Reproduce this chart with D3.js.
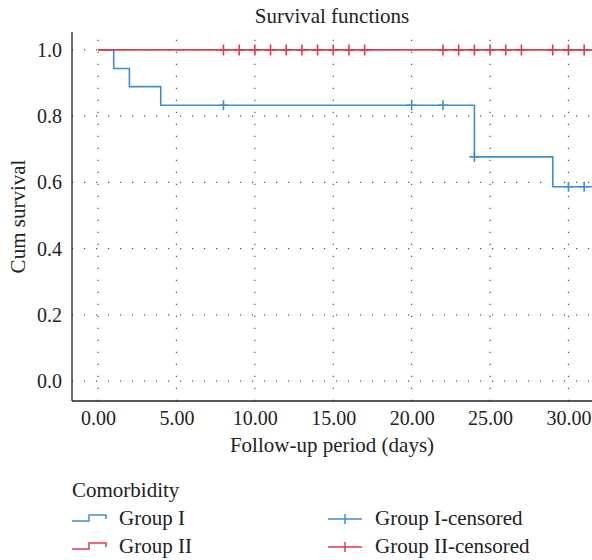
<!DOCTYPE html>
<html>
<head>
<meta charset="utf-8">
<script src="https://cdn.jsdelivr.net/npm/d3@7"></script>
<style>
  body { margin: 0; background: #fff; }
  text { font-family: "Liberation Serif", "DejaVu Serif", serif; fill: #222; }
</style>
</head>
<body>
<div id="chart"></div>
<script>
// survival steps: [time, cum survival]
const groupI = [[0, 1], [1, 0.944], [2, 0.889], [4, 0.833], [24, 0.677], [29, 0.587], [31.5, 0.587]];
const groupII = [[0, 1], [31.5, 1]];
const groupICensored = [[8, 0.833], [20, 0.833], [22, 0.833], [24, 0.677], [30, 0.587], [31, 0.587]];
const groupIICensored = [8, 9, 10, 11, 12, 13, 14, 15, 16, 17, 22, 23, 24, 25, 26, 27, 29, 30, 31].map(t => [t, 1]);
const xTicks = [0, 5, 10, 15, 20, 25, 30];
const yTicks = [0, 0.2, 0.4, 0.6, 0.8, 1.0];
const legendItems = [
  { label: "Group I", color: "#3f8fce", kind: "step" },
  { label: "Group II", color: "#e5384f", kind: "step" },
  { label: "Group I-censored", color: "#3f8fce", kind: "cross" },
  { label: "Group II-censored", color: "#e5384f", kind: "cross" }
];

const width = 592, height = 560;
const mLeft = 72, mRight = 592, mTop = 32, mBottom = 401;

const svg = d3.select("#chart").append("svg")
  .attr("width", width)
  .attr("height", height);

const x = d3.scaleLinear().domain([-1.66, 31.5]).range([mLeft, mRight]);
const y = d3.scaleLinear().domain([-0.06, 1.054]).range([mBottom, mTop]);

// dotted grid
const grid = svg.append("g").attr("stroke", "#555").attr("stroke-width", 1.2).attr("stroke-dasharray", "1.2,10.8");
grid.selectAll("line.v").data(xTicks).enter().append("line")
  .attr("x1", d => x(d)).attr("x2", d => x(d))
  .attr("y1", mBottom).attr("y2", mTop);
grid.selectAll("line.h").data(yTicks).enter().append("line")
  .attr("x1", mLeft).attr("x2", mRight)
  .attr("y1", d => y(d)).attr("y2", d => y(d));

// axes (no tick marks)
const xAxis = svg.append("g").attr("transform", "translate(0," + mBottom + ")")
  .call(d3.axisBottom(x).tickValues(xTicks).tickFormat(d3.format(".2f")).tickSize(0).tickPadding(10));
const yAxis = svg.append("g").attr("transform", "translate(" + mLeft + ",0)")
  .call(d3.axisLeft(y).tickValues(yTicks).tickFormat(d3.format(".1f")).tickSize(0).tickPadding(10));
[xAxis, yAxis].forEach(a => {
  a.attr("font-size", 20).attr("font-family", "Liberation Serif");
  a.select(".domain").attr("stroke", "#222").attr("stroke-width", 1.3);
  a.selectAll(".tick text").attr("fill", "#222").attr("font-size", 20);
});
xAxis.select(".domain").attr("d", "M" + mLeft + ",0H" + mRight);
yAxis.select(".domain").attr("d", "M0," + mTop + "V" + mBottom);

const line = d3.line().x(d => x(d[0])).y(d => y(d[1])).curve(d3.curveStepAfter);

svg.append("path").datum(groupI)
  .attr("fill", "none").attr("stroke", "#3f8fce").attr("stroke-width", 1.6).attr("d", line);
svg.append("path").datum(groupII)
  .attr("fill", "none").attr("stroke", "#e5384f").attr("stroke-width", 1.9).attr("d", line);

function crosses(data, color, size) {
  svg.append("g").selectAll("path").data(data).enter().append("path")
    .attr("d", d => "M" + (x(d[0]) - size) + "," + y(d[1]) + "h" + (2 * size) +
      "M" + x(d[0]) + "," + (y(d[1]) - size) + "v" + (2 * size))
    .attr("stroke", color).attr("stroke-width", 1.6).attr("fill", "none");
}
crosses(groupICensored, "#3f8fce", 5);
crosses(groupIICensored, "#e5384f", 5.5);

// titles
svg.append("text").attr("x", (mLeft + mRight) / 2).attr("y", 23)
  .attr("text-anchor", "middle").style("font-size", "21px").text("Survival functions");
svg.append("text").attr("x", (mLeft + mRight) / 2).attr("y", 452)
  .attr("text-anchor", "middle").style("font-size", "21px").text("Follow-up period (days)");
svg.append("text").attr("transform", "translate(25," + ((mTop + mBottom) / 2) + ") rotate(-90)")
  .attr("text-anchor", "middle").style("font-size", "21px").text("Cum survival");

// legend
const legend = svg.append("g");
legend.append("text").attr("x", 72).attr("y", 497).style("font-size", "21px").text("Comorbidity");
const item = legend.selectAll("g.item").data(legendItems).enter().append("g")
  .attr("transform", (d, i) => "translate(" + (i < 2 ? 72 : 328) + "," + (i % 2 === 0 ? 518 : 546) + ")");
item.append("path")
  .attr("d", d => d.kind === "step" ? "M0,3H17V-3H34V1" : "M0,1H34M17,-4V6")
  .attr("fill", "none").attr("stroke", d => d.color).attr("stroke-width", 1.5);
item.append("text").attr("x", 47).attr("y", 7).style("font-size", "21px").text(d => d.label);
</script>
</body>
</html>
